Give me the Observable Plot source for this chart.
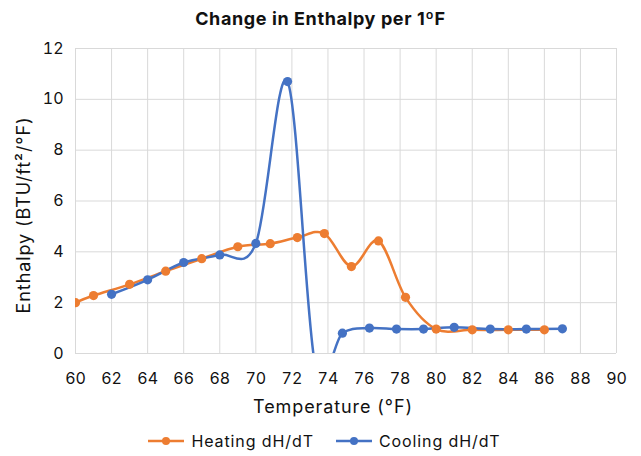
<!DOCTYPE html>
<html><head><meta charset="utf-8">
<script src="https://cdn.jsdelivr.net/npm/d3@7"></script>
<script src="https://cdn.jsdelivr.net/npm/@observablehq/plot@0.6"></script>
<style>
body{margin:0;background:#fff;font-family:Inter,"Noto Sans",sans-serif;color:#000;width:641px;height:456px;overflow:hidden;}
#title{height:36px;line-height:38px;text-align:center;font-weight:700;font-size:18px;letter-spacing:0.6px;color:#111;}
#legend{height:30px;display:flex;justify-content:center;align-items:center;font-size:16px;letter-spacing:0.9px;padding-left:8px;color:#111;}
.item{display:flex;align-items:center;margin:0 11px;}
.item svg{margin-right:7px;}
</style></head>
<body>
<div id="title">Change in Enthalpy per 1ºF</div>
<div id="chart"></div>
<div id="legend"></div>
<script>
const seriesNames = ["Heating dH/dT", "Cooling dH/dT"];
const seriesColors = ["#ED7D31", "#4472C4"];
const heatX = [60, 61, 63, 65, 67, 69, 70.8, 72.3, 73.8, 75.3, 76.8, 78.3, 80, 82, 84, 86];
const heatY = [2.0, 2.28, 2.72, 3.24, 3.73, 4.2, 4.32, 4.56, 4.72, 3.42, 4.43, 2.21, 0.96, 0.93, 0.93, 0.93];
const coolX = [62, 64, 66, 68, 70, 71.76, 73.3, 74.8, 76.3, 77.8, 79.3, 81, 83, 85, 87];
const coolY = [2.33, 2.9, 3.58, 3.88, 4.33, 10.7, -0.5, 0.8, 1.0, 0.96, 0.96, 1.03, 0.96, 0.96, 0.97];
const xTicks = d3.range(60, 91, 2);
const yTicks = d3.range(0, 13, 2);
const xLabel = "Temperature (°F)";
const yLabel = "Enthalpy (BTU/ft²/°F)";

const heat = heatX.map((x, i) => ({x, y: heatY[i], s: seriesNames[0]}));
const cool = coolX.map((x, i) => ({x, y: coolY[i], s: seriesNames[1]}));

const chart = Plot.plot({
  width: 641, height: 390,
  marginTop: 12, marginBottom: 73, marginLeft: 75, marginRight: 25,
  style: {fontFamily: "Inter, 'Noto Sans', sans-serif", fontSize: "16px", color: "#111", background: "#fff", overflow: "visible"},
  x: {domain: [60, 90], ticks: xTicks},
  y: {domain: [0, 12], ticks: yTicks},
  marks: [
    Plot.gridX(xTicks, {stroke: "#d9d9d9", strokeOpacity: 1, strokeWidth: 1}),
    Plot.gridY(yTicks, {stroke: "#d9d9d9", strokeOpacity: 1, strokeWidth: 1}),
    Plot.axisX(xTicks, {tickSize: 0, tickPadding: 19, label: null, fontSize: 16, fill: "#111"}),
    Plot.axisY(yTicks, {tickSize: 0, tickPadding: 12, label: null, fontSize: 16, fill: "#111"}),
    Plot.line(heat, {x: "x", y: "y", stroke: seriesColors[0], strokeWidth: 2.5, curve: "cardinal", tension: 0, clip: true}),
    Plot.line(cool, {x: "x", y: "y", stroke: seriesColors[1], strokeWidth: 2.5, curve: "cardinal", tension: 0, clip: true}),
    Plot.dot(heat, {x: "x", y: "y", r: 4.6, fill: seriesColors[0], clip: true}),
    Plot.dot(cool, {x: "x", y: "y", r: 4.6, fill: seriesColors[1], clip: true}),
    Plot.text([xLabel], {frameAnchor: "bottom", dx: -13, dy: 59, fontSize: 18, fill: "#111"}),
    Plot.text([yLabel], {frameAnchor: "left", textAnchor: "middle", dx: -51, dy: 14, rotate: -90, fontSize: 18, fill: "#111"})
  ]
});
chart.querySelectorAll("text").forEach(t => {
  if (t.textContent === xLabel || t.textContent === yLabel) t.setAttribute("letter-spacing", "0.9");
});
document.getElementById("chart").appendChild(chart);

const legend = document.getElementById("legend");
seriesNames.forEach((name, i) => {
  const item = document.createElement("div");
  item.className = "item";
  item.innerHTML = `<svg width="36" height="12"><line x1="0" x2="36" y1="6" y2="6" stroke="${seriesColors[i]}" stroke-width="2.5"/><circle cx="18" cy="6" r="4" fill="${seriesColors[i]}"/></svg><span>${name}</span>`;
  legend.appendChild(item);
});
</script>
</body></html>
